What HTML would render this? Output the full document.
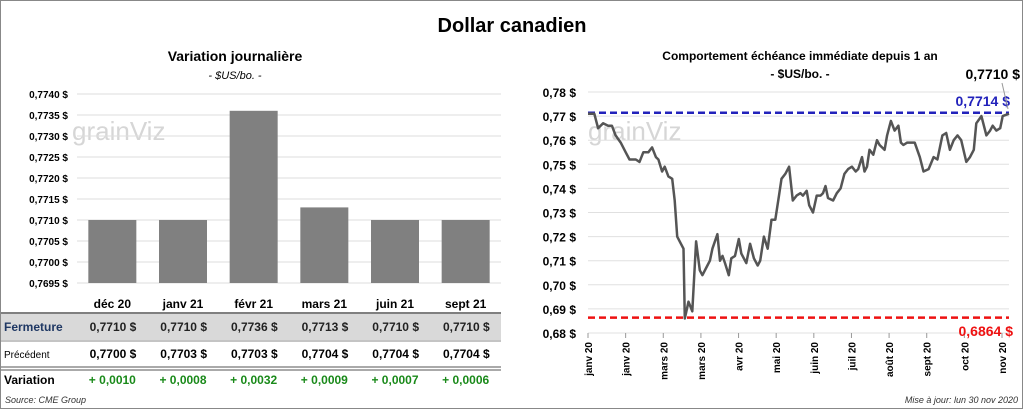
<!DOCTYPE html>
<html><head><meta charset="utf-8">
<style>
body{margin:0;background:#fff;font-family:"Liberation Sans",sans-serif;}
#wrap{position:relative;width:1024px;height:410px;overflow:hidden;}
svg text{font-family:"Liberation Sans",sans-serif;}
</style></head><body>
<div id="wrap">
<svg id="s" width="1024" height="410" xmlns="http://www.w3.org/2000/svg">
<rect x="0.5" y="0.5" width="1022" height="408" fill="#fff" stroke="#888"/>
<text x="512" y="32" font-size="20" font-weight="bold" text-anchor="middle">Dollar canadien</text>
<text x="235" y="61" font-size="14" font-weight="bold" text-anchor="middle">Variation  journalière</text>
<text x="235" y="79" font-size="11" font-style="italic" text-anchor="middle">- $US/bo. -</text>
<text x="800" y="60" font-size="12" font-weight="bold" text-anchor="middle">Comportement échéance immédiate depuis 1 an</text>
<text x="800" y="78" font-size="12" font-weight="bold" text-anchor="middle">- $US/bo. -</text>
<text x="72" y="140" font-size="26" fill="#d6d6d6">grainViz</text>
<text x="588" y="140" font-size="26" fill="#d6d6d6">grainViz</text>
<g id="left"></g><g id="table"></g><g id="right"></g>
<text x="5" y="403" font-size="9" font-style="italic" fill="#333">Source: CME Group</text>
<text x="1018" y="403" font-size="9" font-style="italic" fill="#333" text-anchor="end">Mise à jour: lun 30 nov 2020</text>
</svg></div>
<script>
const barCats=["déc 20","janv 21","févr 21","mars 21","juin 21","sept 21"];
const closeVals=[0.7710,0.7710,0.7736,0.7713,0.7710,0.7710];
const prevVals=[0.7700,0.7703,0.7703,0.7704,0.7704,0.7704];
const varVals=["+ 0,0010","+ 0,0008","+ 0,0032","+ 0,0009","+ 0,0007","+ 0,0006"];
const leftTicks=[0.7740,0.7735,0.7730,0.7725,0.7720,0.7715,0.7710,0.7705,0.7700,0.7695];
const lineDays=[0,5,8,12,16,19,22,26,30,33,38,41,44,48,51,54,56,59,61,64,67,69,71,73,76,77,80,83,86,89,91,95,97,99,103,105,107,109,112,114,117,120,122,126,129,132,135,137,140,143,146,149,152,154,157,160,163,166,169,171,174,176,179,182,185,187,189,191,195,198,201,204,207,210,213,215,218,220,222,224,227,230,232,236,238,241,244,247,249,251,254,260,264,267,271,275,278,282,285,288,291,294,297,301,304,307,309,313,317,320,322,325,328,330,335];
const lineVals=[.771,.771,.765,.767,.766,.766,.762,.759,.755,.752,.752,.751,.755,.755,.757,.753,.752,.747,.749,.745,.744,.735,.72,.718,.715,.686,.693,.689,.718,.706,.704,.708,.710,.715,.721,.710,.712,.709,.704,.711,.712,.719,.713,.709,.717,.711,.708,.710,.720,.715,.727,.727,.737,.744,.746,.749,.735,.737,.738,.737,.739,.733,.730,.737,.737,.738,.741,.736,.735,.738,.740,.746,.748,.749,.747,.748,.753,.747,.749,.756,.754,.760,.758,.756,.762,.768,.764,.766,.759,.758,.759,.759,.753,.747,.748,.753,.752,.762,.763,.756,.760,.762,.760,.751,.753,.756,.767,.770,.762,.764,.766,.764,.765,.770,.771];
const rightTicks=[0.78,0.77,0.76,0.75,0.74,0.73,0.72,0.71,0.70,0.69,0.68];
const xLabels=["janv 20","janv 20","mars 20","mars 20","avr 20","mai 20","juin 20","juil 20","août 20","sept 20","oct 20","nov 20"];
const highVal=0.7714, lowVal=0.6864, lastVal=0.7710;

const NS="http://www.w3.org/2000/svg";
function mk(p,t,a,txt){const e=document.createElementNS(NS,t);for(const k in a)e.setAttribute(k,a[k]);if(txt!==undefined)e.textContent=txt;p.appendChild(e);return e;}
const fmt=(v,d)=>v.toFixed(d).replace('.',',');

const L=document.getElementById('left');
const ly=v=>94+(0.7740-v)/(0.0045)*(283-94);
const lx0=77,lx1=501,bw=(lx1-lx0)/barCats.length;
leftTicks.forEach(t=>{
 const g=mk(L,'line',{x1:lx0,x2:lx1,y1:ly(t),y2:ly(t),stroke:'#ddd'});
 
 
 const tx=mk(L,'text',{x:68,y:ly(t)+4,'font-size':10,'font-weight':'bold','text-anchor':'end'},fmt(t,4)+' $');
 
 
});
closeVals.forEach((v,i)=>{
 const cx=lx0+bw*(i+0.5);
 const r=mk(L,'rect',{x:cx-24,y:ly(v),width:48,height:ly(0.7695)-ly(v),fill:'#808080'});
 
 
});
const T=document.getElementById('table');
mk(T,'rect',{x:1,y:314,width:500,height:26,fill:'#d9d9d9'});
[[313,'#555',1.5],[341,'#888',1],[367,'#555',1],[370,'#555',1]].forEach(a=>mk(T,'line',{x1:1,x2:501,y1:a[0],y2:a[0],stroke:a[1],'stroke-width':a[2]}));
barCats.forEach((c,i)=>{
 const cx=lx0+bw*(i+0.5);
 const h=mk(T,'text',{x:cx,y:308,'font-size':12,'font-weight':'bold','text-anchor':'middle'},c);
 
 
 const a=mk(T,'text',{x:cx+24,y:331,'font-size':12,'font-weight':'bold','text-anchor':'end',fill:'#222'},fmt(closeVals[i],4)+'  $');
 
 
 const b=mk(T,'text',{x:cx+24,y:358,'font-size':12,'font-weight':'bold','text-anchor':'end'},fmt(prevVals[i],4)+'  $');
 
 
 const d=mk(T,'text',{x:cx,y:384,'font-size':12,'font-weight':'bold','text-anchor':'middle',fill:'#1a8a1a'},varVals[i]);
 
 
});
[['Fermeture',331,12,'bold','#1f3864'],['Précédent',358,10,'normal','#000'],['Variation',384,12,'bold','#000']].forEach(r=>{
 const e=mk(T,'text',{x:4,y:r[1],'font-size':r[2],'font-weight':r[3],fill:r[4]},r[0]);
 
 
});

const R=document.getElementById('right');
const rx0=588,rx1=1009,maxDay=335;
const rx=d=>rx0+d/maxDay*(rx1-rx0);
const ry=v=>92+(0.78-v)/0.10*(333-92);
rightTicks.forEach(t=>{
 const g=mk(R,'line',{x1:rx0,x2:rx1,y1:ry(t),y2:ry(t),stroke:'#e0e0e0'});
 
 
 const tx=mk(R,'text',{x:576,y:ry(t)+5,'font-size':12,'font-weight':'bold','text-anchor':'end'},fmt(t,2)+' $');
 
 
});
const xs=(1002-588)/11;
xLabels.forEach((l,i)=>{
 const x=rx0+i*xs;
 mk(R,'line',{x1:x,x2:x,y1:333,y2:338,stroke:'#999'});
 const t=mk(R,'text',{x:x+4,y:342,'font-size':10,'font-weight':'bold','text-anchor':'end',transform:`rotate(-90 ${x+4} 342)`},l);
 
 
});
const hl=mk(R,'line',{x1:rx0,x2:rx1,y1:ry(highVal),y2:ry(highVal),stroke:'#2222bb','stroke-width':2.5,'stroke-dasharray':'7 4'});


const ll=mk(R,'line',{x1:rx0,x2:rx1,y1:ry(lowVal),y2:ry(lowVal),stroke:'#ee1111','stroke-width':2.5,'stroke-dasharray':'7 4'});


const p=mk(R,'path',{d:lineDays.map((d,i)=>(i?'L':'M')+rx(d).toFixed(1)+','+ry(lineVals[i]).toFixed(1)).join(''),fill:'none',stroke:'#555','stroke-width':2.5,'stroke-linejoin':'round'});


const ht=mk(R,'text',{x:1010,y:106,'font-size':14,'font-weight':'bold','text-anchor':'end',fill:'#2222bb'},fmt(highVal,4)+' $');


const lt=mk(R,'text',{x:1013,y:336,'font-size':14,'font-weight':'bold','text-anchor':'end',fill:'#ee1111'},fmt(lowVal,4)+' $');


const la=mk(R,'text',{x:1020,y:79,'font-size':14,'font-weight':'bold','text-anchor':'end'},fmt(lastVal,4)+' $');


mk(R,'line',{x1:1002,y1:83,x2:1008,y2:109,stroke:'#999'});
</script>
</body></html>
